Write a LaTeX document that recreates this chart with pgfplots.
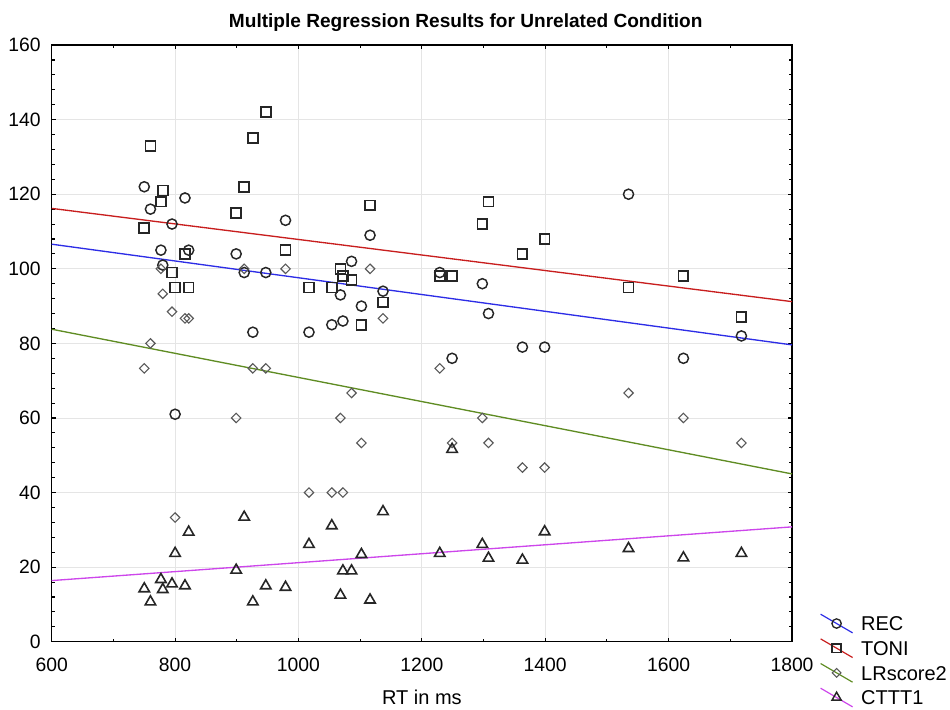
\documentclass[border=0pt]{standalone}
\usepackage{fontspec}
\setmainfont{Liberation Sans}
\usepackage{pgfplots}
\pgfplotsset{compat=1.18}
\usepackage{pgfplotstable}

\definecolor{recblue}{RGB}{45,45,230}
\definecolor{tonired}{RGB}{200,30,30}
\definecolor{lrgreen}{RGB}{95,140,35}
\definecolor{ctttpink}{RGB}{205,70,235}

% RT, REC, TONI, LRscore2, CTTT1
\pgfplotstableread{
rt   rec  toni lr    cttt
750  122  111  73.3  14.2
760  116  133  80    10.7
777  105  118  100   16.7
780  101  121  93.3  14.0
795  112  99   88.5  15.5
800  61   95   33.3  23.7
816  119  104  86.7  15.0
822  105  95   86.7  29.4
899  104  115  60    19.2
912  99   122  100   33.4
926  83   135  73.3  10.7
947  99   142  73.3  15.0
979  113  105  100   14.6
1017 83   95   40    26.1
1054 85   95   40    31.1
1068 93   100  60    12.5
1072 86   98   40    19.0
1086 102  97   66.7  19.0
1102 90   85   53.3  23.4
1116 109  117  100   11.2
1137 94   91   86.7  34.9
1229 99   98   73.3  23.7
1249 76   98   53.3  51.6
1298 96   112  60    26.1
1308 88   118  53.3  22.4
1363 79   104  46.7  21.9
1399 79   108  46.7  29.5
1535 120  95   66.7  25.0
1624 76   98   60    22.5
1718 82   87   53.3  23.7
}\subjects

\begin{document}
\begin{tikzpicture}
\begin{axis}[
  at={(0,0)}, anchor=south west,
  scale only axis, width=555.2pt, height=447.5pt,
  xmin=600, xmax=1800, ymin=0, ymax=160,
  xtick distance=200, ytick distance=20,
  minor x tick num=1, minor y tick num=4,
  tick align=inside, major tick length=3pt, minor tick length=2.2pt,
  grid=major, major grid style={black!10, line width=0.6pt},
  axis line style={line width=0.9pt},
  every tick/.style={black, line width=0.8pt},
  tick label style={font=\fontsize{14.5}{16}\selectfont},
  /pgf/number format/assume math mode=true,
  /pgf/number format/1000 sep={},
  xticklabel style={anchor=center, yshift=-17.5pt},
  yticklabel style={anchor=east, inner sep=0pt, xshift=-8.2pt},
  title={Multiple Regression Results for Unrelated Condition},
  title style={font=\fontsize{14.3}{16}\selectfont\bfseries, at={(axis description cs:0.5593,1)}, anchor=center, yshift=11pt},
  xlabel={RT in ms},
  xlabel style={font=\fontsize{15}{17}\selectfont, at={(axis description cs:0.5,0)}, anchor=center, yshift=-42pt},
  legend style={draw=none, fill=none, at={(axis description cs:1,0)}, anchor=north west,
    xshift=21pt, yshift=21.1pt, inner sep=0pt, outer sep=0pt, row sep=3.6pt,
    font=\fontsize{15}{17}\selectfont, nodes={inner sep=0pt, text height=11pt, text depth=0pt},
    /tikz/every odd column/.append style={column sep=6pt}},
  legend cell align=left,
  legend image code/.code={\draw[mark repeat=2,mark phase=2,#1] plot coordinates {(0pt,7pt) (12pt,0pt) (24pt,-7pt)};},
]
% regression lines
\addplot[forget plot, recblue, line width=1pt] coordinates {(600,106.6) (1800,79.6)};
\addplot[forget plot, tonired, line width=1pt] coordinates {(600,116.2) (1800,91.2)};
\addplot[forget plot, lrgreen, line width=1pt] coordinates {(600,83.8) (1800,45.0)};
\addplot[forget plot, ctttpink, line width=1pt] coordinates {(600,16.4) (1800,30.8)};
% observations
\addplot[forget plot, only marks, mark=o, mark size=3.8pt, black!85, line width=1.1pt] table[x=rt, y=rec] {\subjects};
\addplot[forget plot, only marks, mark=square, mark size=3.7pt, black!85, line width=1.3pt] table[x=rt, y=toni] {\subjects};
\addplot[forget plot, only marks, mark=square, mark size=2.5pt, mark options={rotate=45}, black!65, line width=0.85pt] table[x=rt, y=lr] {\subjects};
\addplot[forget plot, only marks, mark=triangle, mark size=4.5pt, black!85, line width=1.2pt] table[x=rt, y=cttt] {\subjects};
% legend
\addlegendimage{recblue, line width=0.9pt, mark=o, mark options={black!85, mark size=3.5pt, line width=1pt}}
\addlegendentry{REC}
\addlegendimage{tonired, line width=0.9pt, mark=square, mark options={black!85, mark size=3.3pt, line width=1.1pt}}
\addlegendentry{TONI}
\addlegendimage{lrgreen, line width=0.9pt, mark=square, mark options={black!65, mark size=2.3pt, rotate=45, line width=0.85pt}}
\addlegendentry{LRscore2}
\addlegendimage{ctttpink, line width=0.9pt, mark=triangle, mark options={black!85, mark size=4pt, line width=1.1pt}}
\addlegendentry{CTTT1}
\end{axis}
\pgfresetboundingbox
\path (-38.8pt,-50.5pt) rectangle (673.7pt,481.3pt);
\end{tikzpicture}
\end{document}
